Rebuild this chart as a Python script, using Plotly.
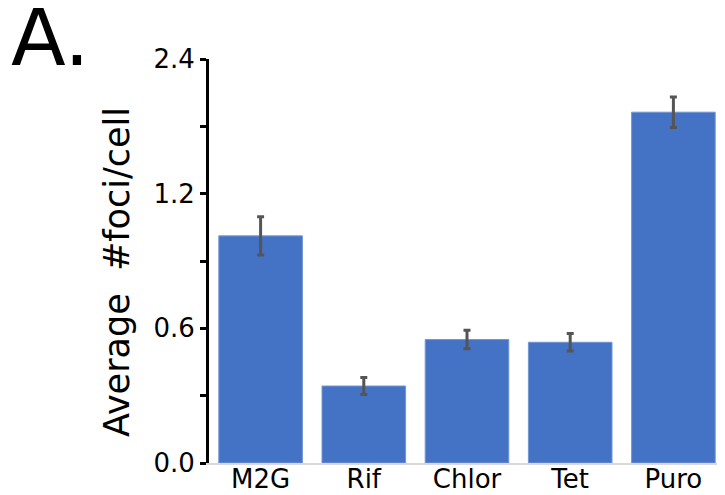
import plotly.graph_objects as go

categories = ["M2G", "Rif", "Chlor", "Tet", "Puro"]
means = [1.012, 0.343, 0.550, 0.538, 1.563]
errors = [0.085, 0.038, 0.041, 0.039, 0.068]

tick_vals = [0.0, 0.3, 0.6, 0.9, 1.2, 1.5, 1.8]
tick_text = ["0.0", "", "0.6", "", "1.2", "", "2.4"]

FONT = "Verdana, DejaVu Sans, sans-serif"

W, H = 717, 487
L, T, B = 201, 51, 32
PW, PH = W - L, H - T - B


def px(fx):
    return (fx - L) / PW


def py(fy):
    return (H - B - fy) / PH


fig = go.Figure(go.Bar(
    x=categories, y=means,
    marker=dict(color="#4472C4", line=dict(color="#7396d6", width=1)),
    error_y=dict(type="data", array=errors, visible=True,
                 color="#555555", thickness=3, width=3.5),
))

fig.update_layout(
    width=W, height=H,
    margin=dict(l=L, r=0, t=T, b=B, autoexpand=False),
    plot_bgcolor="white", paper_bgcolor="white",
    bargap=0.19,
    showlegend=False,
    font=dict(family=FONT, color="black"),
    xaxis=dict(showline=True, linecolor="#d9d9d9", linewidth=2,
               ticks="", tickfont=dict(size=26, family=FONT), showgrid=False,
               ticklabelstandoff=-8),
    yaxis=dict(range=[0, 1.8], tickvals=tick_vals, ticktext=tick_text,
               showline=True, linecolor="black", linewidth=3,
               ticks="outside", ticklen=6, tickwidth=3, tickcolor="black",
               tickfont=dict(size=26, family=FONT), showgrid=False, zeroline=False),
    annotations=[
        dict(text="Average\u00a0 #foci/cell", xref="paper", yref="paper",
             x=px(109), y=py(264), textangle=-90,
             showarrow=False, font=dict(size=35, family=FONT),
             xanchor="center", yanchor="middle"),
        dict(text="A.", xref="paper", yref="paper",
             x=px(42), y=py(30),
             showarrow=False, font=dict(size=80, family=FONT),
             xanchor="center", yanchor="middle"),
    ],
)

fig.write_html("out.html")
